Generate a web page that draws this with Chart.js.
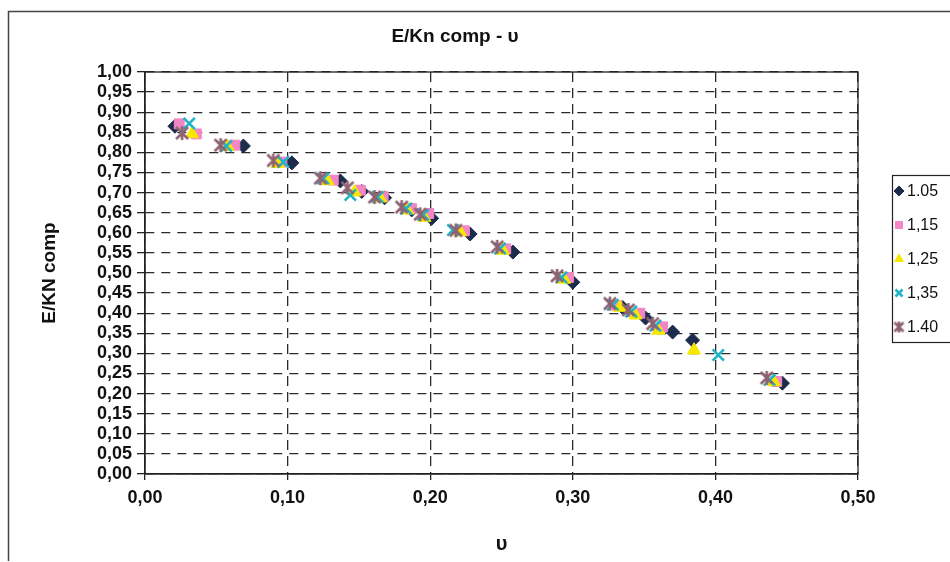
<!DOCTYPE html>
<html>
<head>
<meta charset="utf-8">
<script src="https://cdn.jsdelivr.net/npm/chart.js@4.4.1/dist/chart.umd.min.js"></script>
<style>
  html, body { margin: 0; padding: 0; background: #fff; }
  #wrap { width: 950px; height: 562px; position: relative; }
</style>
</head>
<body>
<div id="wrap"><canvas id="chart" width="950" height="562"></canvas></div>
<script>
// Series labels (as printed in the legend)
const seriesLabels = ['1.05', '1,15', '1,25', '1,35', '1.40'];

// x = υ, y = E/Kn comp
const x105 = [0.021, 0.069, 0.103, 0.137, 0.152, 0.168, 0.187, 0.201, 0.228, 0.258, 0.300, 0.335, 0.351, 0.370, 0.384, 0.447];
const y105 = [0.865, 0.816, 0.774, 0.729, 0.703, 0.687, 0.657, 0.636, 0.597, 0.552, 0.477, 0.414, 0.388, 0.353, 0.333, 0.226];

const x115 = [0.024, 0.036, 0.063, 0.096, 0.132, 0.151, 0.167, 0.187, 0.199, 0.224, 0.253, 0.297, 0.331, 0.347, 0.363, 0.443];
const y115 = [0.871, 0.846, 0.818, 0.776, 0.731, 0.706, 0.690, 0.660, 0.648, 0.605, 0.560, 0.489, 0.419, 0.400, 0.366, 0.230];

const x125 = [0.033, 0.058, 0.093, 0.128, 0.147, 0.165, 0.184, 0.196, 0.221, 0.251, 0.294, 0.333, 0.344, 0.360, 0.385, 0.441];
const y125 = [0.846, 0.814, 0.772, 0.729, 0.701, 0.686, 0.656, 0.638, 0.602, 0.556, 0.484, 0.414, 0.395, 0.357, 0.308, 0.229];

const x135 = [0.031, 0.057, 0.097, 0.125, 0.144, 0.163, 0.183, 0.195, 0.216, 0.249, 0.292, 0.328, 0.341, 0.358, 0.402, 0.438];
const y135 = [0.872, 0.816, 0.776, 0.735, 0.694, 0.689, 0.660, 0.645, 0.607, 0.561, 0.489, 0.421, 0.404, 0.369, 0.296, 0.234];

const x140 = [0.026, 0.053, 0.090, 0.123, 0.142, 0.161, 0.180, 0.193, 0.218, 0.247, 0.289, 0.326, 0.339, 0.356, 0.436];
const y140 = [0.848, 0.818, 0.780, 0.736, 0.712, 0.689, 0.664, 0.646, 0.606, 0.565, 0.493, 0.424, 0.408, 0.374, 0.239];

const xTicks = [0, 0.1, 0.2, 0.3, 0.4, 0.5];
const yStep = 0.05;

const FONT = "'Liberation Sans', Arial, sans-serif";

// Excel "star" marker: X with a vertical bar
function makeStar(color, size){
  const c = document.createElement('canvas');
  c.width = size; c.height = size;
  const g = c.getContext('2d');
  const m = 2, e = size - 2;
  g.strokeStyle = color; g.lineWidth = 2.6;
  g.beginPath();
  g.moveTo(m, m); g.lineTo(e, e);
  g.moveTo(e, m); g.lineTo(m, e);
  g.moveTo(size / 2, 1); g.lineTo(size / 2, size - 1);
  g.stroke();
  return c;
}

function pts(xs, ys){ return xs.map((x, i) => ({ x: x, y: ys[i] })); }

const styles = [
  { pointStyle: 'rectRot', color: '#1d2b4c', radius: 7, border: 1 },
  { pointStyle: 'rect', color: '#f286c6', radius: 7, border: 1 },
  { pointStyle: 'triangle', color: '#f7e800', radius: 7.5, border: 1 },
  { pointStyle: 'crossRot', color: '#1fb4c6', radius: 8, border: 2.6 },
  { pointStyle: makeStar('#8f6272', 16), color: '#8f6272', radius: 8, border: 2.6 }
];
const legendStar = makeStar('#8f6272', 13);
const seriesData = [pts(x105, y105), pts(x115, y115), pts(x125, y125), pts(x135, y135), pts(x140, y140)];

const datasets = seriesData.map((d, i) => ({
  label: seriesLabels[i],
  data: d,
  pointStyle: styles[i].pointStyle,
  pointRadius: styles[i].radius,
  pointHoverRadius: styles[i].radius,
  backgroundColor: styles[i].color,
  borderColor: styles[i].color,
  pointBorderWidth: styles[i].border,
  order: 5 - i
}));

function fmt(v){ return Number(v).toFixed(2).replace('.', ','); }

// ------------------------- decorations -------------------------
const decor = {
  id: 'decor',
  beforeDraw(chart){
    const c = chart.ctx;
    c.save();
    c.fillStyle = '#fff';
    c.fillRect(0, 0, chart.width, chart.height);
    c.restore();
  },
  afterDraw(chart){
    const c = chart.ctx;
    const a = chart.chartArea;
    c.save();
    // plot frame
    c.strokeStyle = '#222'; c.lineWidth = 1.3;
    c.strokeRect(a.left, a.top, a.right - a.left, a.bottom - a.top);
    // outer frame
    c.strokeStyle = '#444'; c.lineWidth = 1.5;
    c.beginPath();
    c.moveTo(8.5, 561); c.lineTo(8.5, 11.5); c.lineTo(950, 11.5);
    c.stroke();
    // title
    c.fillStyle = '#111';
    c.font = 'bold 19px ' + FONT;
    c.textAlign = 'center'; c.textBaseline = 'middle';
    c.fillText('E/Kn comp - υ', 455, 37);
    // legend
    c.strokeStyle = '#222'; c.lineWidth = 1.2;
    c.strokeRect(892.5, 175.5, 70, 167);
    c.font = '16px ' + FONT;
    c.textAlign = 'left';
    chart.data.datasets.forEach((ds, i) => {
      const y = 191 + i * 34;
      c.fillStyle = ds.backgroundColor; c.strokeStyle = ds.borderColor;
      c.lineWidth = ds.pointBorderWidth;
      const ps = (i === 4) ? legendStar : ds.pointStyle;
      Chart.helpers.drawPoint(c, {
        pointStyle: ps, radius: 5, borderWidth: ds.pointBorderWidth, rotation: 0
      }, 899, y);
      c.fillStyle = '#111';
      c.fillText(ds.label, 907, y + 1);
    });
    c.restore();
  }
};

const ctx = document.getElementById('chart').getContext('2d');
const chart = new Chart(ctx, {
  type: 'scatter',
  data: { datasets: datasets },
  options: {
    responsive: false,
    animation: false,
    layout: { padding: { top: 72, right: 92, left: 0, bottom: 0 } },
    plugins: { legend: { display: false }, tooltip: { enabled: false }, title: { display: false } },
    scales: {
      x: {
        type: 'linear', min: 0, max: 0.5,
        afterFit(s){ s.height = 88; },
        afterBuildTicks(s){ s.ticks = xTicks.map(v => ({ value: v })); },
        ticks: { color: '#111', font: { family: FONT, size: 18, weight: 'bold' }, padding: 7, callback: v => fmt(v), maxRotation: 0, autoSkip: false },
        grid: { color: '#2a2a2a', lineWidth: 1.3, tickLength: 6, tickColor: '#222', tickBorderDash: [] },
        border: { display: true, color: '#222', width: 1.3, dash: [10, 6] },
        title: { display: true, text: 'υ', color: '#111', font: { family: FONT, size: 20, weight: 'bold' }, padding: { top: 0, bottom: 6 } }
      },
      y: {
        type: 'linear', min: 0, max: 1,
        afterFit(s){ s.width = 145; },
        ticks: { stepSize: yStep, color: '#111', font: { family: FONT, size: 18, weight: 'bold', lineHeight: 1 }, padding: 5, callback: v => fmt(v), autoSkip: false },
        grid: { color: '#2a2a2a', lineWidth: 1.3, tickLength: 8, tickColor: '#222', tickBorderDash: [] },
        border: { display: true, color: '#222', width: 1.3, dash: [9, 7] },
        title: { display: true, text: 'E/KN comp', color: '#111', font: { family: FONT, size: 19, weight: 'bold' }, padding: { top: 38, bottom: 0 } }
      }
    }
  },
  plugins: [decor]
});
</script>
</body>
</html>
